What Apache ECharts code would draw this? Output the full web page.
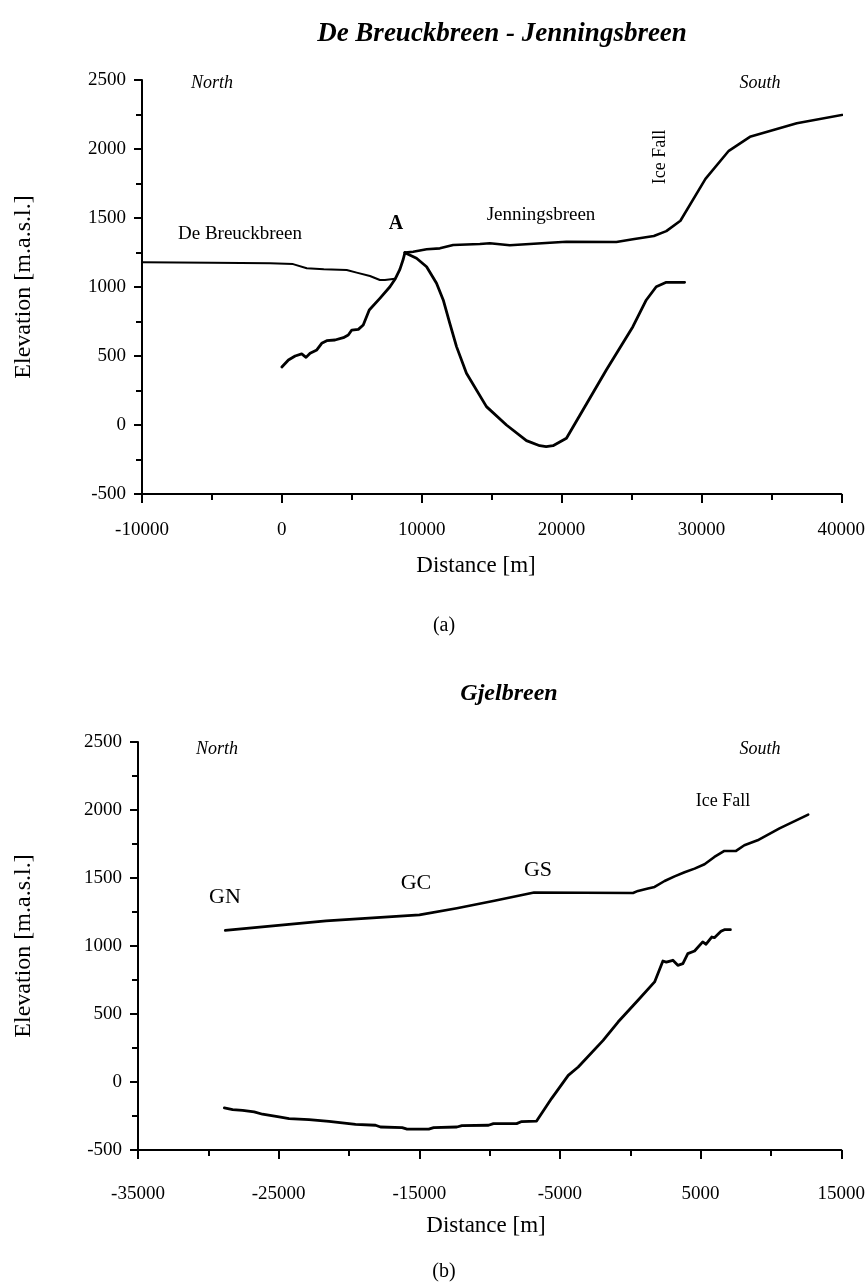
<!DOCTYPE html>
<html><head><meta charset="utf-8">
<script src="https://cdn.jsdelivr.net/npm/echarts@6/dist/echarts.min.js"></script>
<style>html,body{margin:0;padding:0;background:#fff}#c{width:868px;height:1286px}</style>
</head><body><div id="c"></div>
<script>
// ---------- Chart (a): De Breuckbreen - Jenningsbreen ----------
const aXTicks = [-10000, 0, 10000, 20000, 30000, 40000];
const aYTicks = [-500, 0, 500, 1000, 1500, 2000, 2500];
const aDeBreuckSurface = [[-10000,1180],[-5000,1176],[-840,1172],[800,1166],[1780,1136],[3000,1128],[4640,1123],[5350,1104],[6300,1080],[7010,1051],[7370,1050],[8090,1060]];
const aDeBreuckBed = [[0,420],[470,471],[950,500],[1420,515],[1730,490],[2020,520],[2500,544],[2850,592],[3210,611],[3800,616],[4400,633],[4750,652],[5000,688],[5470,693],[5820,725],[6250,833],[7010,918],[7730,1002],[8090,1056],[8440,1128],[8680,1201],[8800,1249]];
const aJenSurface = [[8800,1249],[9390,1256],[10350,1273],[11300,1280],[12250,1304],[14160,1312],[14870,1317],[16300,1302],[19160,1321],[20350,1328],[23920,1326],[25100,1346],[26600,1369],[27490,1405],[28500,1480],[30290,1783],[31960,1987],[33470,2088],[36820,2187],[41200,2268]];
const aJenBed = [[8800,1249],[9630,1208],[10350,1147],[11060,1027],[11540,906],[12010,737],[12490,568],[13200,375],[14630,133],[16060,0],[17490,-113],[18440,-150],[18900,-156],[19390,-150],[20350,-96],[21530,109],[23200,399],[25100,712],[26060,906],[26770,1002],[27490,1034],[28800,1034]];

// ---------- Chart (b): Gjelbreen ----------
const bXTicks = [-35000, -25000, -15000, -5000, 5000, 15000];
const bYTicks = [-500, 0, 500, 1000, 1500, 2000, 2500];
const bSurface = [[-28800,1115],[-21630,1185],[-14990,1229],[-12330,1278],[-9660,1332],[-6840,1393],[195,1390],[550,1405],[1260,1422],[1730,1434],[2440,1478],[3150,1512],[3860,1542],[4570,1569],[5280,1601],[5980,1655],[6690,1699],[7520,1699],[8110,1741],[9050,1777],[10610,1865],[12650,1966]];
const bBed = [[-28860,-191],[-28270,-203],[-27560,-208],[-26740,-220],[-26150,-237],[-24970,-257],[-24260,-269],[-22840,-276],[-21420,-289],[-19530,-311],[-18110,-318],[-17760,-331],[-16220,-335],[-15870,-346],[-14330,-346],[-13980,-335],[-12330,-331],[-11970,-321],[-10080,-318],[-9730,-306],[-8080,-306],[-7720,-291],[-6660,-287],[-5600,-122],[-4410,49],[-3700,110],[-1930,306],[-870,441],[550,601],[1730,736],[2320,890],[2560,882],[3030,895],[3380,858],[3740,870],[4090,944],[4570,963],[5150,1030],[5390,1013],[5790,1066],[5980,1061],[6450,1108],[6690,1120],[7120,1120]];

const FONT = '"Liberation Serif", "DejaVu Serif", serif';
const BLACK = '#000';

function xAxisCfg(gi, ticks, margin) {
  return {
    type: 'value', gridIndex: gi, min: ticks[0], max: ticks[ticks.length - 1], interval: ticks[1] - ticks[0],
    axisLine: { show: true, onZero: false, lineStyle: { color: BLACK, width: 2 } },
    axisTick: { show: true, inside: false, length: 9, lineStyle: { color: BLACK, width: 2 } },
    minorTick: { show: true, splitNumber: 2, length: 6, lineStyle: { color: BLACK, width: 2 } },
    splitLine: { show: false }, minorSplitLine: { show: false },
    axisLabel: { fontFamily: FONT, fontSize: 19, color: BLACK, margin: margin, formatter: v => String(v) }
  };
}
function yAxisCfg(gi, ticks, gap) {
  return {
    type: 'value', gridIndex: gi, min: ticks[0], max: ticks[ticks.length - 1], interval: ticks[1] - ticks[0],
    name: 'Elevation [m.a.s.l.]', nameLocation: 'middle', nameGap: gap,
    nameTextStyle: { fontFamily: FONT, fontSize: 24, color: BLACK },
    axisLine: { show: true, onZero: false, lineStyle: { color: BLACK, width: 2 } },
    axisTick: { show: true, inside: false, length: 8, lineStyle: { color: BLACK, width: 2 } },
    minorTick: { show: true, splitNumber: 2, length: 6, lineStyle: { color: BLACK, width: 2 } },
    splitLine: { show: false }, minorSplitLine: { show: false },
    axisLabel: { fontFamily: FONT, fontSize: 19, color: BLACK, margin: 16, formatter: v => String(v) }
  };
}
function line(xi, data, w) {
  return {
    type: 'line', xAxisIndex: xi, yAxisIndex: xi, data: data, showSymbol: false, symbol: 'none',
    clip: false, smooth: false, animation: false, silent: true,
    lineStyle: { color: BLACK, width: w, cap: 'round', join: 'round' }
  };
}
function txt(text, x, y, size, style, rot) {
  return {
    type: 'text', x: x, y: y, rotation: rot || 0, silent: true,
    style: { text: text, font: (style || '') + ' ' + size + 'px ' + FONT, fill: BLACK, align: 'center', verticalAlign: 'middle' }
  };
}

const chart = echarts.init(document.getElementById('c'));
chart.setOption({
  animation: false,
  backgroundColor: '#fff',
  grid: [
    { left: 142, top: 80, width: 700, height: 414 },
    { left: 138, top: 742, width: 706, height: 408 }
  ],
  xAxis: [xAxisCfg(0, aXTicks, 27), xAxisCfg(1, bXTicks, 35)],
  yAxis: [yAxisCfg(0, aYTicks, 106), yAxisCfg(1, bYTicks, 102)],
  series: [
    line(0, aDeBreuckSurface, 2),
    line(0, aDeBreuckBed, 2.8),
    line(0, aJenSurface, 2.6),
    line(0, aJenBed, 2.8),
    line(1, bSurface, 2.6),
    line(1, bBed, 2.8)
  ],
  graphic: [
    txt('De Breuckbreen - Jenningsbreen', 502, 34, 27, 'italic bold'),
    txt('North', 212, 83, 18, 'italic'),
    txt('South', 760, 83, 18, 'italic'),
    txt('Ice Fall', 660, 157, 18, '', Math.PI / 2),
    txt('Jenningsbreen', 541, 215, 19, ''),
    txt('A', 396, 224, 20, 'bold'),
    txt('De Breuckbreen', 240, 234, 19, ''),
    txt('Distance [m]', 476, 566, 23, ''),
    txt('(a)', 444, 626, 20, ''),
    txt('Gjelbreen', 509, 694, 24, 'italic bold'),
    txt('North', 217, 749, 18, 'italic'),
    txt('South', 760, 749, 18, 'italic'),
    txt('Ice Fall', 723, 801, 18, ''),
    txt('GS', 538, 870, 22, ''),
    txt('GC', 416, 883, 22, ''),
    txt('GN', 225, 897, 22, ''),
    txt('Distance [m]', 486, 1226, 23, ''),
    txt('(b)', 444, 1272, 20, '')
  ]
});
</script>
</body></html>
